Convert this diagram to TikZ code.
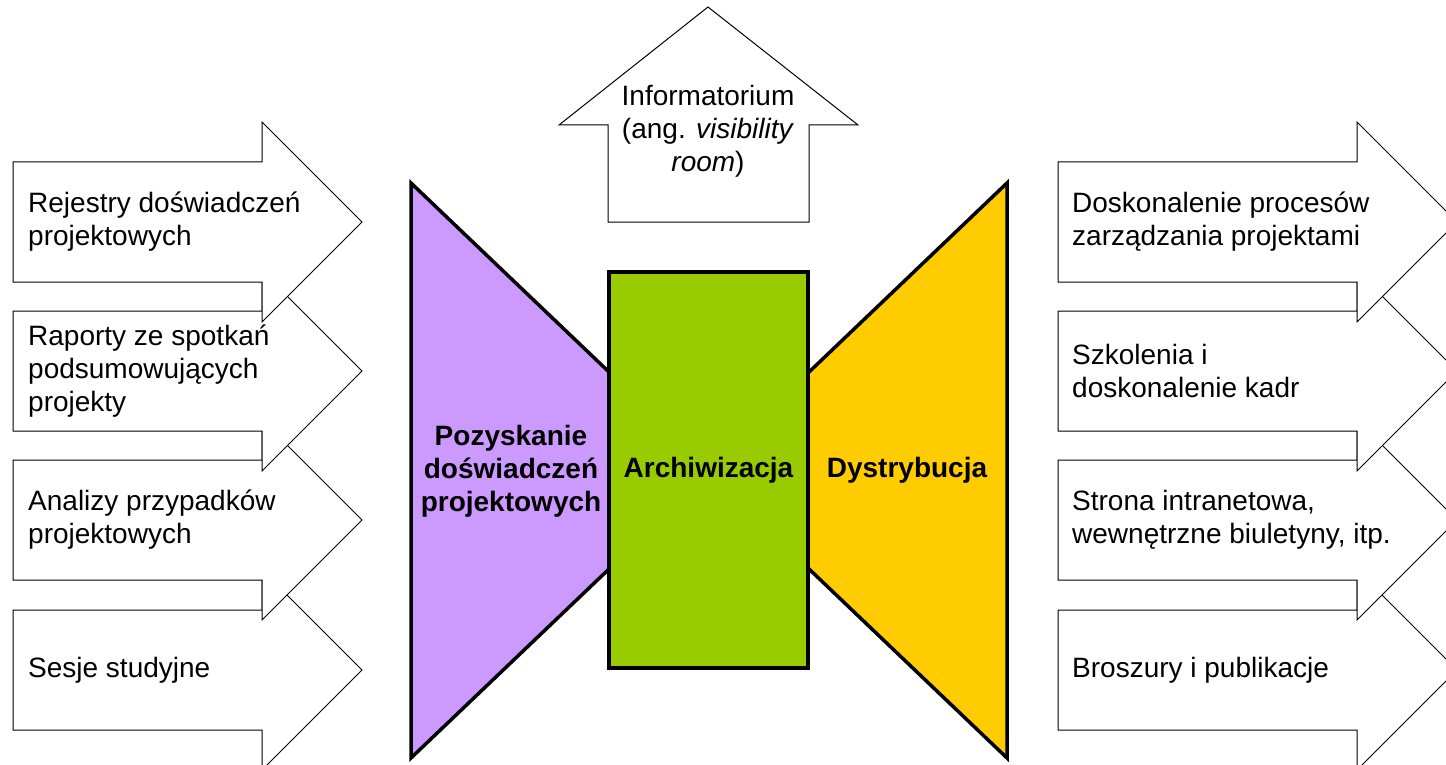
\documentclass[tikz,border=0pt]{standalone}
\usepackage{fontspec}
\setmainfont{Liberation Sans}
\definecolor{lilac}{HTML}{CC99FF}
\definecolor{leaf}{HTML}{99CC00}
\definecolor{amber}{HTML}{FFCC00}
\begin{document}
\begin{tikzpicture}[x=1pt,y=-1pt,
  outline/.style={draw=black, line width=1pt, fill=white, line join=miter},
  stage/.style={draw=black, line width=3.5pt, line join=miter},
  itemtext/.style={font=\fontsize{28}{33}\selectfont, align=left, anchor=west, inner sep=0pt},
  stagetext/.style={font=\fontsize{28}{33}\selectfont\bfseries, align=center, inner sep=0pt}]
\useasboundingbox (0,0) rectangle (1446,765);
\begin{scope}
\clip (0,0) rectangle (1446,765);

% inputs: arrows on the left, drawn bottom-up so the upper ones overlap
\foreach \y/\nm/\txt in {670/in4/{Sesje studyjne},
                         520/in3/{Analizy przypadków\\projektowych},
                         371/in2/{Raporty ze spotkań\\podsumowujących\\projekty},
                         222/in1/{Rejestry doświadczeń\\projektowych}}{
  \draw[outline] (13,\y-60) -- (262,\y-60) -- (262,\y-100) -- (362,\y)
        -- (262,\y+100) -- (262,\y+60) -- (13,\y+60) -- cycle;
  \node[itemtext] (\nm) at (28,\y) {\txt};
}

% outputs: arrows on the right
\foreach \y/\nm/\txt in {670/out4/{Broszury i publikacje},
                         520/out3/{Strona intranetowa,\\wewnętrzne biuletyny, itp.},
                         371/out2/{Szkolenia i\\doskonalenie kadr},
                         222/out1/{Doskonalenie procesów\\zarządzania projektami}}{
  \draw[outline] (1058,\y-60) -- (1357,\y-60) -- (1357,\y-100) -- (1457,\y)
        -- (1357,\y+100) -- (1357,\y+60) -- (1058,\y+60) -- cycle;
  \node[itemtext] (\nm) at (1072,\y) {\txt};
}

% upward arrow
\draw[outline] (608,222) -- (608,125) -- (559,125) -- (708,7) -- (858,125)
      -- (809,125) -- (809,222) -- cycle;
\node[font=\fontsize{28}{33}\selectfont, align=center, inner sep=0pt] (vis) at (708,131)
  {Informatorium\\(ang. \textit{visibility}\\\textit{room})};

% the three stages
\draw[stage, fill=lilac] (411,183) -- (640,401.6) -- (640,539.4) -- (411,758) -- cycle;
\draw[stage, fill=amber] (1007,183) -- (777,402.6) -- (777,538.4) -- (1007,758) -- cycle;
\draw[stage, fill=leaf] (609,272) rectangle (808,668);

\node[stagetext] (acq) at (511,471) {Pozyskanie\\doświadczeń\\projektowych};
\node[stagetext] (arch) at (708.5,470) {Archiwizacja};
\node[stagetext] (dist) at (907,470) {Dystrybucja};
\end{scope}
\end{tikzpicture}
\end{document}
